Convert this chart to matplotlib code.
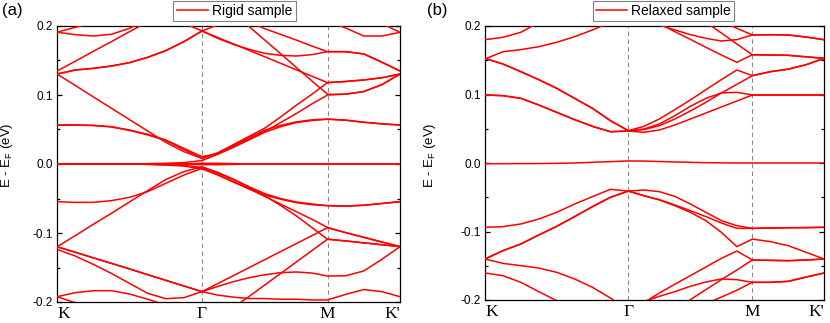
import numpy as np
import matplotlib
matplotlib.use("Agg")
import matplotlib.pyplot as plt
from matplotlib.ticker import MultipleLocator, FormatStrFormatter

plt.rcParams['font.family'] = ['Liberation Sans', 'DejaVu Sans']
plt.rcParams['axes.unicode_minus'] = False

# high-symmetry path K - Gamma - M - K' (hexagonal BZ lengths) and samples per segment
seg_lengths = [1.0, np.sqrt(3) / 2, 0.5]
seg_points = [8, 8, 4]
k_labels = ['K', 'Γ', 'M', "K'"]

# energies (eV), one list per band, 21 samples along the path
rigid_bands = [
    [0.191, 0.198, 0.205, 0.212, 0.22, 0.228, 0.235, 0.24, 0.245, 0.25, 0.255, 0.26, 0.26, 0.258, 0.255, 0.25, 0.24, 0.228, 0.216, 0.2036, 0.1908],
    [0.26, 0.26, 0.255, 0.25, 0.245, 0.235, 0.2145, 0.2036, 0.193, 0.2015, 0.207, 0.206, 0.1961, 0.1879, 0.1797, 0.171, 0.1628, 0.1628, 0.1595, 0.1475, 0.1348],
    [0.191, 0.1874, 0.1855, 0.188, 0.1966, 0.21, 0.225, 0.235, 0.24, 0.245, 0.245, 0.243, 0.24, 0.235, 0.228, 0.22, 0.207, 0.1971, 0.1855, 0.1855, 0.1908],
    [0.1348, 0.1488, 0.1633, 0.1773, 0.1918, 0.2058, 0.2198, 0.234, 0.248, 0.2383, 0.2186, 0.1992, 0.1796, 0.16, 0.1402, 0.1205, 0.101, 0.1012, 0.105, 0.115, 0.1304],
    [0.1304, 0.1362, 0.1386, 0.142, 0.1469, 0.1546, 0.1643, 0.1773, 0.1928, 0.1821, 0.1734, 0.1662, 0.1604, 0.1575, 0.1565, 0.1585, 0.1628, 0.1628, 0.1595, 0.1475, 0.1348],
    [0.1304, 0.1362, 0.1386, 0.142, 0.1469, 0.1546, 0.1643, 0.1773, 0.1928, 0.1834, 0.1741, 0.1647, 0.1554, 0.146, 0.1366, 0.1273, 0.1179, 0.1196, 0.1218, 0.125, 0.1304],
    [0.1304, 0.114, 0.0973, 0.0808, 0.0643, 0.0478, 0.0314, 0.0179, 0.0082, 0.016, 0.028, 0.04, 0.052, 0.068, 0.085, 0.101, 0.118, 0.1196, 0.1218, 0.125, 0.1304],
    [0.0565, 0.0565, 0.056, 0.0541, 0.0493, 0.043, 0.0348, 0.0227, 0.0106, 0.015, 0.026, 0.037, 0.047, 0.06, 0.073, 0.087, 0.1, 0.1012, 0.105, 0.115, 0.1304],
    [0.0565, 0.0565, 0.0558, 0.0537, 0.0487, 0.0422, 0.034, 0.021, 0.008, 0.016, 0.027, 0.038, 0.049, 0.056, 0.061, 0.064, 0.065, 0.0635, 0.0605, 0.0582, 0.0565],
    [0.0, 0.0, 0.0, 0.0, 0.0, 0.0005, 0.001, 0.002, 0.005, 0.014, 0.024, 0.035, 0.046, 0.054, 0.06, 0.063, 0.065, 0.0635, 0.0605, 0.0582, 0.0565],
    [0.0, 0.0, 0.0, 0.0, 0.0, 0.0, 0.0, 0.0, 0.001, 0.001, 0.0005, 0.0, 0.0, 0.0, 0.0, 0.0, 0.0, 0.0, 0.0, 0.0, 0.0],
    [0.0, 0.0, 0.0, 0.0, 0.0, 0.0, 0.0, 0.0, -0.001, -0.001, -0.0005, 0.0, 0.0, 0.0, 0.0, 0.0, 0.0, 0.0, 0.0, 0.0, 0.0],
    [-0.0546, -0.0556, -0.0556, -0.0531, -0.0483, -0.0401, -0.028, -0.016, -0.0063, -0.015, -0.026, -0.036, -0.045, -0.051, -0.056, -0.059, -0.0604, -0.061, -0.0598, -0.0572, -0.0546],
    [-0.12, -0.1039, -0.0874, -0.0715, -0.055, -0.0386, -0.0225, -0.011, -0.004, -0.012, -0.022, -0.033, -0.043, -0.05, -0.055, -0.058, -0.0604, -0.061, -0.0598, -0.0572, -0.0546],
    [0.0, 0.0, 0.0, 0.0, 0.0, -0.0005, -0.001, -0.002, -0.005, -0.013, -0.023, -0.034, -0.046, -0.06, -0.075, -0.092, -0.109, -0.1115, -0.1143, -0.117, -0.1198],
    [0.0, 0.0, 0.0, 0.0, 0.0, -0.0005, -0.0015, -0.003, -0.007, -0.016, -0.026, -0.036, -0.047, -0.058, -0.069, -0.08, -0.092, -0.0995, -0.1063, -0.113, -0.1198],
    [-0.12, -0.1278, -0.136, -0.144, -0.152, -0.1604, -0.1686, -0.1768, -0.185, -0.19, -0.193, -0.195, -0.195, -0.196, -0.196, -0.197, -0.197, -0.189, -0.182, -0.185, -0.1923],
    [-0.1237, -0.1333, -0.1454, -0.1585, -0.173, -0.1874, -0.1952, -0.1937, -0.185, -0.1775, -0.1705, -0.1648, -0.1605, -0.1575, -0.1565, -0.158, -0.1623, -0.162, -0.155, -0.138, -0.1198],
    [-0.12, -0.1278, -0.136, -0.144, -0.152, -0.1604, -0.1686, -0.1768, -0.185, -0.1734, -0.1618, -0.1502, -0.1386, -0.127, -0.1155, -0.1039, -0.0923, -0.0995, -0.1063, -0.113, -0.1198],
    [-0.1923, -0.1865, -0.1836, -0.1836, -0.1884, -0.196, -0.2043, -0.215, -0.23, -0.225, -0.208, -0.192, -0.1753, -0.1588, -0.1422, -0.1256, -0.109, -0.1115, -0.1143, -0.117, -0.1198],
    [-0.1923, -0.201, -0.212, -0.222, -0.23, -0.235, -0.24, -0.24, -0.24, -0.24, -0.24, -0.24, -0.24, -0.24, -0.24, -0.24, -0.24, -0.24, -0.24, -0.24, -0.24],
]

relaxed_bands = [
    [0.1518, 0.1625, 0.1655, 0.1698, 0.1762, 0.1844, 0.1942, 0.2053, 0.215, 0.212, 0.2015, 0.1942, 0.1874, 0.182, 0.1781, 0.1801, 0.1869, 0.1873, 0.1869, 0.1839, 0.18],
    [0.18, 0.1835, 0.1908, 0.2053, 0.22, 0.232, 0.24, 0.245, 0.245, 0.2146, 0.2034, 0.1917, 0.1805, 0.1689, 0.1577, 0.147, 0.158, 0.1577, 0.1572, 0.155, 0.1528],
    [0.3, 0.3, 0.3, 0.3, 0.3, 0.3, 0.3, 0.3, 0.3, 0.28, 0.26, 0.24, 0.221, 0.2053, 0.1898, 0.1737, 0.158, 0.1577, 0.1572, 0.155, 0.1528],
    [0.3, 0.3, 0.3, 0.3, 0.3, 0.3, 0.3, 0.3, 0.3, 0.29, 0.27, 0.25, 0.232, 0.217, 0.2068, 0.1966, 0.1869, 0.1873, 0.1869, 0.1839, 0.18],
    [0.1528, 0.1445, 0.1333, 0.1217, 0.109, 0.0944, 0.0798, 0.0618, 0.0472, 0.0535, 0.0642, 0.0779, 0.092, 0.107, 0.1217, 0.1358, 0.1275, 0.1333, 0.137, 0.1435, 0.1528],
    [0.1528, 0.1445, 0.1333, 0.1217, 0.109, 0.0944, 0.0798, 0.0618, 0.0472, 0.0487, 0.0545, 0.0642, 0.0759, 0.0886, 0.1022, 0.1148, 0.1275, 0.1333, 0.137, 0.1435, 0.1528],
    [0.0993, 0.0983, 0.0944, 0.0847, 0.074, 0.0633, 0.0535, 0.0457, 0.0467, 0.0496, 0.0569, 0.0691, 0.0827, 0.0944, 0.1022, 0.1032, 0.0993, 0.0993, 0.0993, 0.0993, 0.0993],
    [0.0993, 0.0983, 0.0944, 0.0847, 0.074, 0.0633, 0.0535, 0.0457, 0.0467, 0.0448, 0.0482, 0.0555, 0.0642, 0.073, 0.0818, 0.0905, 0.0993, 0.0993, 0.0993, 0.0993, 0.0993],
    [-0.001, -0.001, -0.0009, -0.0008, -0.0005, 0.0, 0.001, 0.002, 0.003, 0.0028, 0.0022, 0.0015, 0.001, 0.0005, 0.0002, 0.0, 0.0, 0.0, 0.0, 0.0, 0.0],
    [-0.0939, -0.0929, -0.089, -0.0818, -0.072, -0.0599, -0.0491, -0.0384, -0.041, -0.0394, -0.0418, -0.0487, -0.0599, -0.072, -0.0842, -0.0915, -0.0954, -0.0949, -0.0945, -0.0943, -0.0939],
    [-0.1401, -0.128, -0.1182, -0.1051, -0.0925, -0.0783, -0.0637, -0.0501, -0.041, -0.0477, -0.0535, -0.0613, -0.0696, -0.0783, -0.0876, -0.0954, -0.0954, -0.0949, -0.0945, -0.0943, -0.0939],
    [-0.1401, -0.128, -0.1182, -0.1051, -0.0925, -0.0783, -0.0637, -0.0501, -0.041, -0.0477, -0.054, -0.0623, -0.072, -0.0842, -0.1012, -0.1221, -0.1111, -0.1148, -0.1207, -0.1304, -0.1401],
    [-0.1401, -0.1465, -0.1499, -0.1533, -0.1596, -0.1693, -0.1815, -0.1971, -0.215, -0.2038, -0.1898, -0.177, -0.1645, -0.1518, -0.1392, -0.1285, -0.1416, -0.1421, -0.1426, -0.1416, -0.1401],
    [-0.1606, -0.1645, -0.1742, -0.1878, -0.201, -0.212, -0.22, -0.225, -0.225, -0.2024, -0.1946, -0.1878, -0.18, -0.1737, -0.1693, -0.1703, -0.1742, -0.1742, -0.1728, -0.1665, -0.1606],
    [-0.3, -0.3, -0.3, -0.3, -0.3, -0.3, -0.3, -0.3, -0.3, -0.25, -0.24, -0.215, -0.1995, -0.1849, -0.1703, -0.1562, -0.1416, -0.1421, -0.1426, -0.1416, -0.1401],
    [-0.3, -0.3, -0.3, -0.3, -0.3, -0.3, -0.3, -0.3, -0.3, -0.26, -0.25, -0.24, -0.23, -0.2057, -0.1957, -0.1857, -0.1742, -0.1742, -0.1728, -0.1665, -0.1606],
]

panel_names = ['(a)', '(b)']
legend_names = ['Rigid sample', 'Relaxed sample']

# sample positions along the path
nodes = np.concatenate([[0], np.cumsum(seg_lengths)])
k = [np.linspace(nodes[0], nodes[1], seg_points[0] + 1)]
for i in (1, 2):
    k.append(np.linspace(nodes[i], nodes[i + 1], seg_points[i] + 1)[1:])
k = np.concatenate(k)

fig = plt.figure(figsize=(8.3, 3.23), dpi=100)
axes = [fig.add_axes([57 / 830, 21 / 323, 343 / 830, 276 / 323]),
        fig.add_axes([485 / 830, 23 / 323, 339 / 830, 274 / 323])]
legend_pos = [(234.5 / 830, 1 - 11 / 323), (663.5 / 830, 1 - 11 / 323)]
panel_x = [2 / 830, 427 / 830]
label_x = [-0.122, -0.138]

for ax, bands, name, lname, lpos, px, lx in zip(axes, [rigid_bands, relaxed_bands], panel_names,
                                                 legend_names, legend_pos, panel_x, label_x):
    for i, e in enumerate(bands):
        ax.plot(k, e, color='#ff0000', lw=1.1, solid_joinstyle='round',
                label=lname if i == 0 else None, zorder=3)
    for node in nodes[1:3]:
        ax.axvline(node, color='#8a8a8a', lw=0.8, ls=(0, (4, 3)), zorder=1)

    ax.set_xlim(nodes[0], nodes[-1])
    ax.set_ylim(-0.2, 0.2)
    ax.set_xticks(nodes)
    ticklabels = ax.set_xticklabels(k_labels, fontfamily='Liberation Serif', fontsize=12.5)
    ticklabels[0].set_ha('left')
    ticklabels[-1].set_ha('right')
    ax.tick_params(axis='x', length=0, pad=3)

    ax.yaxis.set_major_locator(MultipleLocator(0.1))
    ax.yaxis.set_minor_locator(MultipleLocator(0.05))
    ax.yaxis.set_major_formatter(FormatStrFormatter('%.1f'))
    ax.tick_params(axis='y', which='both', direction='in', right=True, labelsize=8.5, pad=3, width=0.9)
    ax.tick_params(axis='y', which='major', length=3.5)
    ax.tick_params(axis='y', which='minor', length=2)
    for sp in ax.spines.values():
        sp.set_linewidth(0.9)

    ax.set_ylabel(r'E - E$_\mathregular{F}$ (eV)', fontsize=9.5)
    ax.yaxis.set_label_coords(lx, 0.53)

    leg = ax.legend(loc='center', bbox_to_anchor=lpos, bbox_transform=fig.transFigure,
                    fancybox=False, edgecolor='#808080', fontsize=10, borderpad=0.25,
                    handlelength=2.2, handletextpad=0.3, borderaxespad=0, framealpha=1)
    leg.get_frame().set_linewidth(0.8)

    fig.text(px, 1 - 11 / 323, name, fontsize=12, va='center', ha='left')

fig.savefig('out.png', dpi=100)
